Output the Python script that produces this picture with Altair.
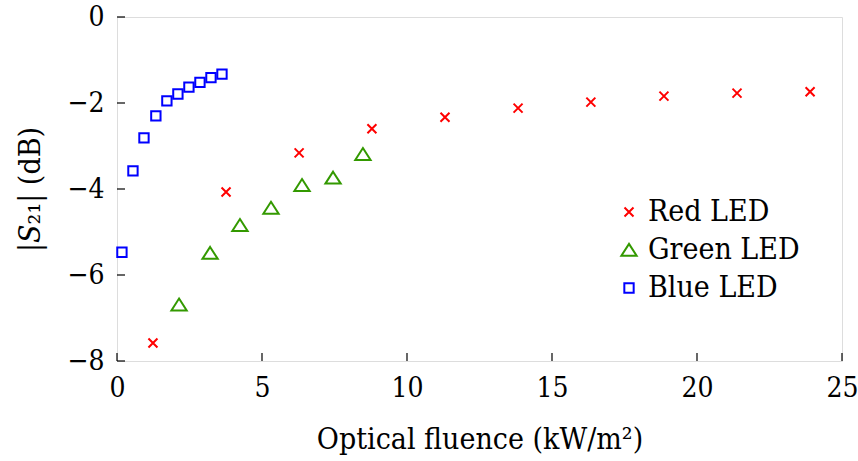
import altair as alt
import pandas as pd

red_x = [1.24, 3.76, 6.28, 8.79, 11.31, 13.83, 16.34, 18.86, 21.38, 23.90]
red_y = [-7.58, -4.07, -3.16, -2.60, -2.33, -2.12, -1.98, -1.84, -1.77, -1.74]
green_x = [2.14, 3.21, 4.24, 5.31, 6.38, 7.45, 8.48]
green_y = [-6.69, -5.49, -4.84, -4.44, -3.91, -3.74, -3.19]
blue_x = [0.17, 0.55, 0.93, 1.34, 1.72, 2.10, 2.48, 2.86, 3.24, 3.62]
blue_y = [-5.47, -3.58, -2.81, -2.30, -1.95, -1.79, -1.63, -1.52, -1.41, -1.33]

series = ["Red LED", "Green LED", "Blue LED"]
colors = ["#FF0000", "#339900", "#0000FF"]
shapes = [
    "M-0.53,-0.53L0.53,0.53M-0.53,0.53L0.53,-0.53",
    "M0,-0.72L0.9,0.68L-0.9,0.68Z",
    "M-0.55,-0.55L0.55,-0.55L0.55,0.55L-0.55,0.55Z",
]
x_ticks = [0, 5, 10, 15, 20, 25]
y_ticks = [-8, -6, -4, -2, 0]

rows = []
for name, xs, ys in [(series[0], red_x, red_y), (series[1], green_x, green_y), (series[2], blue_x, blue_y)]:
    for a, b in zip(xs, ys):
        rows.append({"x": a, "y": b, "series": name})
df = pd.DataFrame(rows)

FONT = "'DejaVu Serif Condensed', 'DejaVu Serif', serif"
FS = 30
LFS = 28
W, H = 725, 344

xscale = alt.Scale(domain=[0, 25], nice=False)
yscale = alt.Scale(domain=[-8, 0], nice=False)

leg = alt.Legend(title=None, orient="none", legendX=497, legendY=180,
                 labelFont=FONT, labelFontSize=FS, labelColor="black",
                 symbolSize=289, symbolStrokeWidth=2, labelOffset=4,
                 rowPadding=8, padding=0)

points = alt.Chart(df).mark_point(filled=False, size=289, strokeWidth=2, opacity=1).encode(
    x=alt.X("x:Q", scale=xscale, axis=alt.Axis(
        title="Optical fluence (kW/m²)", values=x_ticks, grid=False, domain=False, ticks=False,
        labelFlush=False,
        labelFont=FONT, labelFontSize=LFS, labelColor="black", labelPadding=13,
        titleFont=FONT, titleFontSize=FS, titleFontWeight="normal", titleColor="black", titlePadding=22)),
    y=alt.Y("y:Q", scale=yscale, axis=alt.Axis(
        title="|𝑆₂₁| (dB)", values=y_ticks, grid=False, domain=False, ticks=False,
        labelFlush=False,
        labelFont=FONT, labelFontSize=LFS, labelColor="black", labelPadding=13,
        titleFont=FONT, titleFontSize=FS, titleFontWeight="normal", titleColor="black", titlePadding=21)),
    color=alt.Color("series:N", scale=alt.Scale(domain=series, range=colors), legend=leg),
    shape=alt.Shape("series:N", scale=alt.Scale(domain=series, range=shapes), legend=leg),
)

xt = pd.DataFrame({"t": x_ticks})
yt = pd.DataFrame({"t": y_ticks})
xtick = alt.Chart(xt).mark_rule(color="black", strokeWidth=1.2).encode(
    x=alt.X("t:Q", scale=xscale), y=alt.value(H), y2=alt.value(H - 8))
ytick = alt.Chart(yt).mark_rule(color="black", strokeWidth=1.2).encode(
    y=alt.Y("t:Q", scale=yscale), x=alt.value(0), x2=alt.value(8))

chart = alt.layer(xtick, ytick, points).properties(
    width=W, height=H,
    autosize=alt.AutoSizeParams(type="none"),
    padding={"left": 117, "top": 17, "right": 16, "bottom": 100},
).configure_view(stroke="black", strokeWidth=1.5).configure(background="white")

chart.save("out.html", embed_options={"renderer": "svg", "actions": False})
